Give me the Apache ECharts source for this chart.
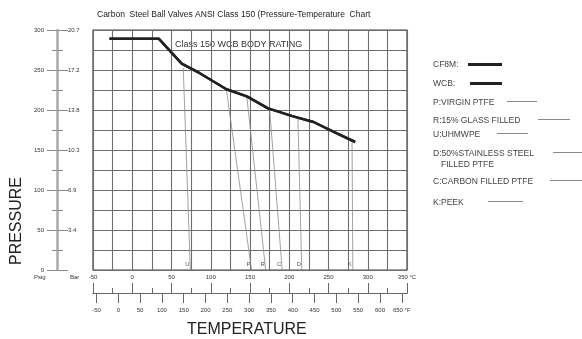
<!DOCTYPE html>
<html>
<head>
<meta charset="utf-8">
<script src="https://cdn.jsdelivr.net/npm/echarts@6/dist/echarts.min.js"></script>
<style>
  html, body { margin: 0; padding: 0; background: #fff; }
  #chart { width: 582px; height: 339px; }
</style>
</head>
<body>
<div id="chart"></div>
<script>
// body rating curve (temperature in °C, pressure in psig)
var wcbTemp = [-29, 34, 63, 86, 120, 146, 173, 205, 231, 256, 284];
var wcbPsi = [289, 289, 258, 246, 226, 217, 202, 192, 185, 173, 160];
var cf8mTemp = [-29, 34, 63, 86, 120, 146, 173, 205, 231, 256, 284];
var cf8mPsi = [289, 289, 258, 246, 226, 217, 202, 192, 185, 173, 160];

// seat rating lines
var seatKeys = ['U', 'P', 'R', 'C', 'D', 'K'];
var seatNames = ['U:UHMWPE', 'P:VIRGIN PTFE', 'R:15% GLASS FILLED', 'C:CARBON FILLED PTFE', 'D:50%STAINLESS STEEL', 'K:PEEK'];
var seatTopTemp = [65, 120, 146, 175, 211, 280];
var seatTopPsi = [252, 225, 216, 201, 191, 159];
var seatEndTemp = [74, 152, 170, 191, 216, 281];

// scales
var fahrenheitTicks = [-50, 0, 50, 100, 150, 200, 250, 300, 350, 400, 450, 500, 550, 600, 650];

var dom = document.getElementById('chart');
var myChart = echarts.init(dom, null, { renderer: 'canvas' });

var ink = '#333';
var gridGray = '#6e6e6e';

function pairs(xs, ys) {
  return xs.map(function (x, i) { return [x, ys[i]]; });
}

var series = [
  {
    name: 'CF8M:',
    type: 'line',
    data: pairs(cf8mTemp, cf8mPsi),
    symbol: 'none',
    lineStyle: { color: '#222', width: 2.5 },
    itemStyle: { color: '#222' },
    z: 5
  },
  {
    name: 'WCB:',
    type: 'line',
    data: pairs(wcbTemp, wcbPsi),
    symbol: 'none',
    lineStyle: { color: '#222', width: 2.5 },
    itemStyle: { color: '#222' },
    z: 6
  }
];

seatKeys.forEach(function (k, i) {
  series.push({
    name: seatNames[i],
    type: 'line',
    symbol: 'circle',
    symbolSize: 0,
    showSymbol: true,
    lineStyle: { color: '#8a8a8a', width: 0.8 },
    itemStyle: { color: '#8a8a8a' },
    data: [
      [seatTopTemp[i], seatTopPsi[i]],
      {
        value: [seatEndTemp[i], 0],
        label: {
          show: true,
          position: 'top',
          distance: 3,
          offset: [-3, 0],
          formatter: k,
          fontSize: 6,
          color: '#555'
        }
      }
    ],
    z: 4
  });
});

// legend swatches (one component each so they sit where the scan puts them)
var legendSpots = [
  { name: 'CF8M:', x: 468, y: 65, w: 34, h: 3, c: '#222' },
  { name: 'WCB:', x: 470, y: 84, w: 32, h: 3, c: '#222' },
  { name: 'P:VIRGIN PTFE', x: 507, y: 103, w: 30, h: 1, c: '#8a8a8a' },
  { name: 'R:15% GLASS FILLED', x: 538, y: 121, w: 32, h: 1, c: '#8a8a8a' },
  { name: 'U:UHMWPE', x: 497, y: 135, w: 31, h: 1, c: '#8a8a8a' },
  { name: 'D:50%STAINLESS STEEL', x: 553, y: 154, w: 29, h: 1, c: '#8a8a8a' },
  { name: 'C:CARBON FILLED PTFE', x: 550, y: 182, w: 32, h: 1, c: '#8a8a8a' },
  { name: 'K:PEEK', x: 488, y: 203, w: 35, h: 1, c: '#8a8a8a' }
];
var legends = legendSpots.map(function (s) {
  return {
    data: [s.name],
    left: s.x,
    top: s.y - 2,
    padding: 0,
    icon: 'rect',
    itemWidth: s.w,
    itemHeight: s.h,
    itemStyle: { color: s.c },
    selectedMode: false,
    formatter: function () { return ''; },
    textStyle: { fontSize: 8, lineHeight: 8 }
  };
});

var legendTexts = [
  ['CF8M:', 433, 65], ['WCB:', 433, 84], ['P:VIRGIN PTFE', 433, 103],
  ['R:15% GLASS FILLED', 433, 121], ['U:UHMWPE', 433, 135],
  ['D:50%STAINLESS STEEL', 433, 154], ['FILLED PTFE', 441, 165],
  ['C:CARBON FILLED PTFE', 433, 182], ['K:PEEK', 433, 203]
];
var graphics = legendTexts.map(function (t) {
  return {
    type: 'text', left: t[1], top: t[2] - 5,
    style: { text: t[0], fontSize: 8.5, fill: '#444', fontFamily: 'Liberation Sans' }
  };
});
graphics.push(
  { type: 'text', left: 175, top: 40, style: { text: 'Class 150 WCB BODY RATING', fontSize: 9, fill: ink, fontFamily: 'Liberation Sans' } },
  { type: 'text', left: 9, top: 177, rotation: Math.PI / 2, style: { text: 'PRESSURE', fontSize: 16, fill: '#222', fontFamily: 'Liberation Sans' } },
  { type: 'text', left: 187, top: 322, style: { text: 'TEMPERATURE', fontSize: 16, fill: '#222', fontFamily: 'Liberation Sans' } },
  { type: 'text', left: 34, top: 274, style: { text: 'Psig', fontSize: 6, fill: ink, fontFamily: 'Liberation Sans' } },
  { type: 'text', left: 70, top: 274, style: { text: 'Bar', fontSize: 6, fill: ink, fontFamily: 'Liberation Sans' } }
);

var option = {
  backgroundColor: '#fff',
  animation: false,
  textStyle: { fontFamily: 'Liberation Sans' },
  title: {
    text: 'Carbon  Steel Ball Valves ANSI Class 150 (Pressure-Temperature  Chart',
    left: 97,
    top: 10,
    padding: 0,
    textStyle: { fontSize: 8.5, fontWeight: 'normal', color: '#222', fontFamily: 'Liberation Sans' }
  },
  legend: legends,
  grid: [
    { left: 93, top: 30, width: 314, height: 240, show: true, borderColor: '#444', borderWidth: 1.2 },
    { left: 93, top: 290, width: 314, height: 3 },
    { left: 57, top: 30, width: 1, height: 240 }
  ],
  xAxis: [
    {
      gridIndex: 0, type: 'value', min: -50, max: 350, interval: 25,
      axisLine: { show: false }, axisTick: { show: false }, axisLabel: { show: false },
      splitLine: { show: true, lineStyle: { color: gridGray, width: 1.1 } }
    },
    {
      gridIndex: 1, type: 'value', position: 'top', min: -50, max: 350, interval: 50,
      axisLine: { show: true, lineStyle: { color: '#666', width: 1 } },
      axisTick: { show: true, length: 10, lineStyle: { color: '#666' } },
      minorTick: { show: true, splitNumber: 2, length: 5, lineStyle: { color: '#666' } },
      splitLine: { show: false },
      axisLabel: {
        fontSize: 6, margin: 10, color: ink, showMinLabel: true, showMaxLabel: true,
        formatter: function (v) { return v === 350 ? '350 °C' : String(v); }
      }
    },
    {
      gridIndex: 1, type: 'value', position: 'bottom', min: -58, max: 662,
      axisLine: { show: true, lineStyle: { color: '#666', width: 1 } },
      axisTick: { show: true, length: 10, customValues: fahrenheitTicks, lineStyle: { color: '#666' } },
      splitLine: { show: false },
      axisLabel: {
        fontSize: 6, margin: 14, color: ink, customValues: fahrenheitTicks,
        formatter: function (v) { return v === 650 ? '650 °F' : String(v); }
      }
    },
    { gridIndex: 2, type: 'value', show: false, min: 0, max: 1 }
  ],
  yAxis: [
    {
      gridIndex: 0, type: 'value', min: 0, max: 300, interval: 25,
      axisLine: { show: false }, axisTick: { show: false }, axisLabel: { show: false },
      splitLine: { show: true, lineStyle: { color: gridGray, width: 1.1 } }
    },
    { gridIndex: 1, type: 'value', show: false, min: 0, max: 1 },
    {
      gridIndex: 2, type: 'value', position: 'left', min: 0, max: 300, interval: 50,
      axisLine: { show: true, lineStyle: { color: '#aaa', width: 2.5 } },
      axisTick: { show: true, length: 10, lineStyle: { color: '#888' } },
      minorTick: { show: true, splitNumber: 2, length: 5, lineStyle: { color: '#888' } },
      splitLine: { show: false },
      axisLabel: { fontSize: 6, margin: 13, color: ink }
    },
    {
      gridIndex: 2, type: 'value', position: 'right', min: 0, max: 300, interval: 50,
      axisLine: { show: false },
      axisTick: { show: true, length: 10, lineStyle: { color: '#888' } },
      minorTick: { show: true, splitNumber: 2, length: 5, lineStyle: { color: '#888' } },
      splitLine: { show: false },
      axisLabel: {
        fontSize: 6, margin: 10, color: ink,
        formatter: function (v) { return v === 0 ? '' : (v * 0.0689476).toFixed(1); }
      }
    }
  ],
  graphic: graphics,
  series: series
};

if (option && typeof option === 'object') {
  myChart.setOption(option);
}
</script>
</body>
</html>
